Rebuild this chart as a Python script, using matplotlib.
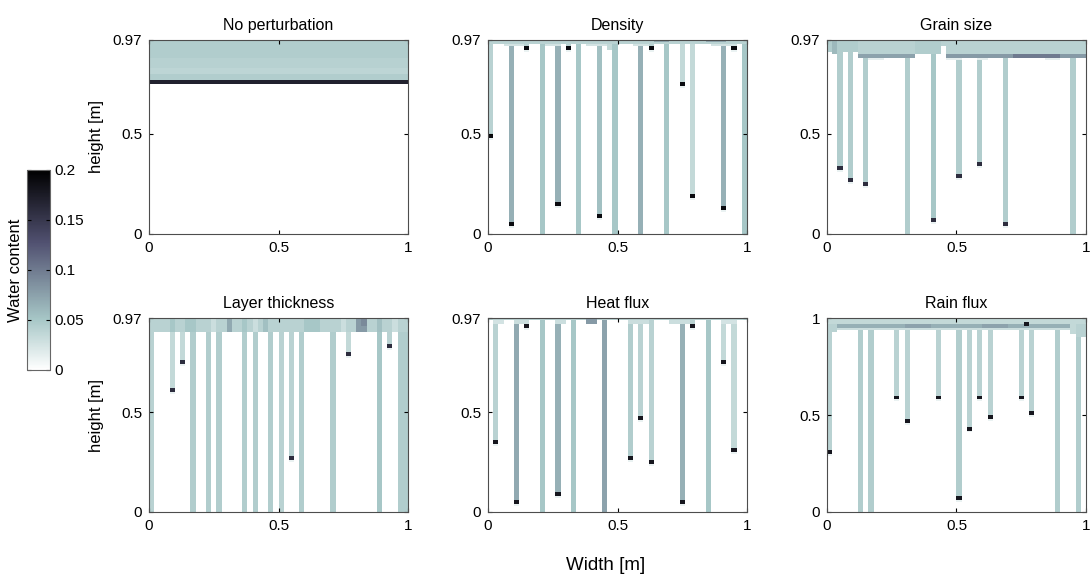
import numpy as np
import matplotlib.pyplot as plt

plt.rcParams['font.family'] = ['Liberation Sans', 'DejaVu Sans']

titles = ['No perturbation', 'Density', 'Grain size', 'Layer thickness', 'Heat flux', 'Rain flux']
tops = [0.97, 0.97, 0.97, 0.97, 0.97, 1.0]
blob_w = [0.18, 0.19, 0.16, 0.16, 0.18, 0.18]

# fingers: left edge [m], lower end [m] (0 = reaches bottom), water content
noper_fx, noper_fb, noper_fw = [], [], []
dens_fx = [0.00, 0.08, 0.14, 0.20, 0.26, 0.30, 0.34, 0.42, 0.48, 0.58, 0.62, 0.68, 0.74, 0.78, 0.90, 0.94, 0.98]
dens_fb = [0.48, 0.04, 0.92, 0.00, 0.14, 0.92, 0.00, 0.08, 0.00, 0.00, 0.92, 0.00, 0.74, 0.18, 0.12, 0.92, 0.00]
dens_fw = [0.040, 0.065, 0.040, 0.050, 0.065, 0.040, 0.050, 0.055, 0.050, 0.065, 0.040, 0.050, 0.035, 0.035, 0.065, 0.040, 0.050]
grain_fx = [0.04, 0.08, 0.14, 0.30, 0.40, 0.50, 0.58, 0.68, 0.94]
grain_fb = [0.32, 0.26, 0.24, 0.00, 0.06, 0.28, 0.34, 0.04, 0.00]
grain_fw = [0.045, 0.045, 0.045, 0.045, 0.05, 0.045, 0.045, 0.045, 0.045]
layer_fx = [0.00, 0.08, 0.12, 0.16, 0.22, 0.26, 0.36, 0.40, 0.46, 0.50, 0.54, 0.58, 0.70, 0.76, 0.88, 0.92, 0.96, 0.98]
layer_fb = [0.00, 0.60, 0.74, 0.00, 0.00, 0.00, 0.00, 0.00, 0.00, 0.00, 0.26, 0.00, 0.00, 0.78, 0.00, 0.82, 0.00, 0.00]
layer_fw = [0.040, 0.035, 0.035, 0.045, 0.045, 0.045, 0.045, 0.045, 0.045, 0.040, 0.040, 0.045, 0.045, 0.035, 0.050, 0.040, 0.045, 0.045]
heat_fx = [0.02, 0.10, 0.14, 0.20, 0.26, 0.32, 0.44, 0.54, 0.58, 0.62, 0.74, 0.78, 0.84, 0.90, 0.94]
heat_fb = [0.34, 0.04, 0.92, 0.00, 0.08, 0.00, 0.00, 0.26, 0.46, 0.24, 0.04, 0.92, 0.00, 0.74, 0.30]
heat_fw = [0.040, 0.070, 0.040, 0.050, 0.065, 0.050, 0.075, 0.045, 0.040, 0.040, 0.065, 0.040, 0.050, 0.035, 0.035]
rain_fx = [0.00, 0.12, 0.16, 0.26, 0.30, 0.42, 0.50, 0.54, 0.58, 0.62, 0.74, 0.76, 0.78, 0.88, 0.96]
rain_fb = [0.30, 0.00, 0.00, 0.58, 0.46, 0.58, 0.06, 0.42, 0.58, 0.48, 0.58, 0.96, 0.50, 0.00, 0.00]
rain_fw = [0.040, 0.045, 0.045, 0.040, 0.040, 0.040, 0.045, 0.040, 0.040, 0.040, 0.040, 0.040, 0.040, 0.045, 0.045]

# wet top layer pieces: x from, x to, lower edge, water content (later pieces paint over)
noper_top = [(0, 1, 0.75, 0.17), (0, 1, 0.77, 0.045), (0, 1, 0.80, 0.038), (0, 1, 0.83, 0.042), (0, 1, 0.88, 0.045)]
dens_top = [(0.06, 0.14, 0.94, 0.025), (0.22, 0.28, 0.94, 0.025), (0.38, 0.48, 0.94, 0.025), (0.56, 0.62, 0.94, 0.025),
            (0.86, 0.96, 0.94, 0.025), (0.46, 0.48, 0.92, 0.035), (0, 1, 0.95, 0.04),
            (0.64, 0.70, 0.96, 0.07), (0.84, 0.92, 0.96, 0.07)]
grain_top = [(0.16, 0.22, 0.87, 0.015), (0.46, 0.52, 0.87, 0.015), (0.58, 0.62, 0.87, 0.015), (0.84, 0.90, 0.87, 0.015),
             (0.12, 0.34, 0.88, 0.075), (0.46, 1.0, 0.88, 0.08), (0.72, 0.90, 0.88, 0.10),
             (0.0, 0.12, 0.91, 0.045), (0.34, 0.44, 0.90, 0.045), (0.12, 0.34, 0.90, 0.04), (0.46, 1.0, 0.90, 0.04),
             (0.02, 0.04, 0.90, 0.06), (0.44, 0.46, 0.94, 0.04)]
layer_top = [(0, 1, 0.90, 0.04), (0.08, 0.10, 0.90, 0.05), (0.14, 0.18, 0.90, 0.05), (0.30, 0.32, 0.90, 0.07),
             (0.36, 0.38, 0.90, 0.05), (0.44, 0.46, 0.90, 0.055), (0.60, 0.66, 0.90, 0.05), (0.80, 0.84, 0.90, 0.08),
             (0.88, 0.90, 0.90, 0.055), (0.24, 0.26, 0.90, 0.03), (0.40, 0.42, 0.90, 0.03), (0.74, 0.76, 0.90, 0.03),
             (0.94, 0.96, 0.90, 0.03), (0.82, 0.84, 0.93, 0.09)]
heat_top = [(0.02, 0.06, 0.94, 0.025), (0.10, 0.16, 0.94, 0.03), (0.26, 0.30, 0.94, 0.03), (0.54, 0.62, 0.94, 0.03),
            (0.70, 0.78, 0.94, 0.03), (0.90, 0.96, 0.94, 0.025), (0.38, 0.42, 0.94, 0.08), (0, 0.38, 0.96, 0.04),
            (0.42, 1, 0.96, 0.04)]
rain_top = [(0.00, 0.02, 0.91, 0.04), (0.02, 0.04, 0.93, 0.04), (0.94, 0.96, 0.92, 0.035), (0.96, 1.0, 0.90, 0.04),
            (0.04, 0.94, 0.94, 0.03), (0.04, 0.94, 0.95, 0.065), (0.30, 0.40, 0.95, 0.075), (0.60, 0.70, 0.95, 0.075),
            (0, 1, 0.97, 0.035)]

fingers = [(noper_fx, noper_fb, noper_fw), (dens_fx, dens_fb, dens_fw), (grain_fx, grain_fb, grain_fw),
           (layer_fx, layer_fb, layer_fw), (heat_fx, heat_fb, heat_fw), (rain_fx, rain_fb, rain_fw)]
top_layers = [noper_top, dens_top, grain_top, layer_top, heat_top, rain_top]

dx, dy = 0.02, 0.01


def build_field(top, fx, fb, fw, pieces, bw):
    xe = np.linspace(0, 1, 51)
    ye = np.linspace(0, top, int(round(top / dy)) + 1)
    xc = (xe[:-1] + xe[1:]) / 2
    yc = (ye[:-1] + ye[1:]) / 2
    X, Y = np.meshgrid(xc, yc)
    Z = np.zeros_like(X)
    for x0, b, w in zip(fx, fb, fw):
        col = (X > x0) & (X < x0 + dx)
        Z[col & (Y > b)] = w
        if b > 0:
            Z[col & (Y > b - dy) & (Y < b)] = 0.012
    for x0, x1, b, w in pieces:
        Z[(X > x0) & (X < x1) & (Y > b)] = w
    for x0, b in zip(fx, fb):
        if b > 0:
            Z[(X > x0) & (X < x0 + dx) & (Y > b) & (Y < b + 2 * dy)] = bw
    return xe, ye, Z


fig = plt.figure(figsize=(10.91, 5.78), dpi=100)
lefts = [0.1366, 0.4473, 0.758]
bottoms = [0.5952, 0.1142]
w, h = 0.2374, 0.3356

for i in range(6):
    ax = fig.add_axes([lefts[i % 3], bottoms[i // 3], w, h])
    fx, fb, fw = fingers[i]
    xe, ye, Z = build_field(tops[i], fx, fb, fw, top_layers[i], blob_w[i])
    mesh = ax.pcolormesh(xe, ye, Z, cmap='bone_r', vmin=0, vmax=0.2, shading='flat')
    ax.set_xlim(0, 1)
    ax.set_ylim(0, tops[i])
    ax.set_xticks([0, 0.5, 1])
    ax.set_xticklabels(['0', '0.5', '1'])
    ax.set_yticks([0, 0.5, tops[i]])
    ax.set_yticklabels(['0', '0.5', '0.97' if tops[i] < 1 else '1'])
    ax.tick_params(direction='in', top=True, right=True, length=3, labelsize=11, pad=5)
    for s in ax.spines.values():
        s.set_color('0.3')
    ax.set_title(titles[i], fontsize=11.5, pad=7)
    if i % 3 == 0:
        ax.set_ylabel('height [m]', fontsize=12, labelpad=6)

cax = fig.add_axes([0.0247, 0.3599, 0.0211, 0.346])
cb = fig.colorbar(mesh, cax=cax)
cb.set_ticks([0, 0.05, 0.1, 0.15, 0.2])
cb.set_ticklabels(['0', '0.05', '0.1', '0.15', '0.2'])
cb.outline.set_edgecolor('0.4')
cax.tick_params(direction='in', length=3, labelsize=11, left=True, right=True, pad=3)
cax.yaxis.set_label_position('left')
cb.set_label('Water content', fontsize=12, labelpad=3)

fig.text(0.555, 0.022, 'Width [m]', ha='center', va='center', fontsize=13.5)

plt.savefig('out.png', dpi=100)
